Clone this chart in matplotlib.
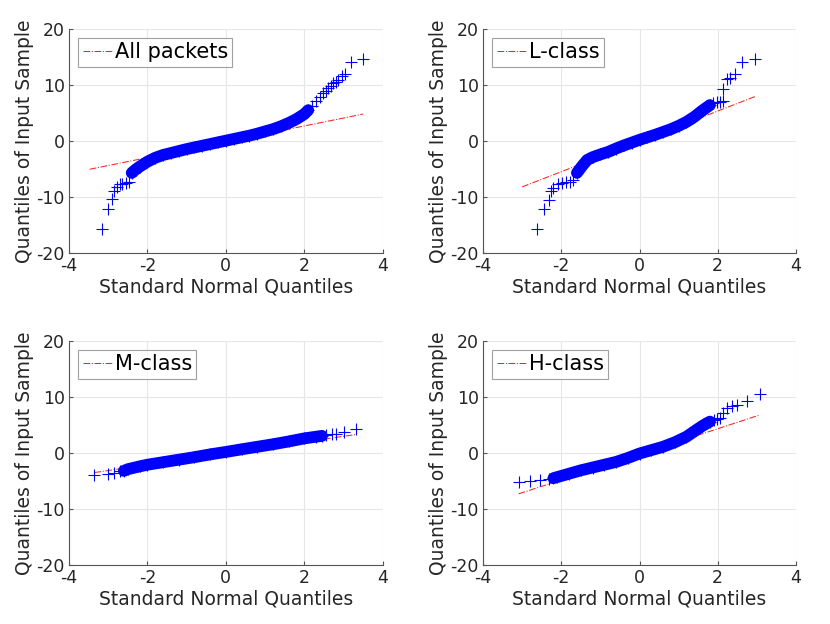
import numpy as np
import matplotlib.pyplot as plt

# etichette dei pannelli
nomi = ['All packets', 'L-class', 'M-class', 'H-class']

# All packets: code e corpo (quantili normali, quantili campione)
all_x = [-3.17, -3.01, -2.91, -2.85, -2.78, -2.70, -2.64, -2.55, -2.47, -2.40,
         -2.30, -2.20, -2.00, -1.80, -1.60, -1.40, -1.20, -1.00, -0.80, -0.60,
         -0.40, -0.20, 0.00, 0.20, 0.40, 0.60, 0.80, 1.00, 1.20, 1.40,
         1.60, 1.80, 2.00, 2.10, 2.20, 2.31, 2.40, 2.48, 2.55, 2.61,
         2.67, 2.73, 2.80, 2.86, 2.95, 3.03, 3.18, 3.50]
all_y = [-15.7, -12.1, -10.4, -9.0, -8.3, -7.7, -7.6, -7.5, -7.4, -5.7,
         -5.1, -4.6, -3.7, -3.0, -2.5, -2.15, -1.8, -1.45, -1.15, -0.85,
         -0.55, -0.25, 0.05, 0.35, 0.65, 0.95, 1.3, 1.7, 2.1, 2.6,
         3.2, 3.9, 4.8, 5.5, 6.3, 7.2, 7.9, 8.5, 9.0, 9.4,
         9.9, 10.3, 10.6, 10.9, 11.6, 11.9, 14.1, 14.6]
all_corpo = (9, 34)   # indici del tratto denso
all_rx = [-3.47, 3.50]
all_ry = [-5.05, 4.80]

# L-class
l_x = [-2.62, -2.45, -2.32, -2.26, -2.20, -2.09, -1.98, -1.87, -1.77, -1.69,
       -1.60, -1.47, -1.34, -1.20, -1.00, -0.80, -0.60, -0.40, -0.20, 0.00,
       0.20, 0.40, 0.60, 0.80, 1.00, 1.20, 1.40, 1.60, 1.80, 1.88,
       1.97, 2.06, 2.14, 2.14, 2.23, 2.31, 2.44, 2.61, 2.95]
l_y = [-15.7, -12.1, -10.5, -9.0, -8.4, -7.6, -7.5, -7.4, -7.4, -6.9,
       -5.7, -4.5, -3.4, -2.9, -2.4, -1.95, -1.35, -0.8, -0.3, 0.2,
       0.65, 1.1, 1.6, 2.1, 2.7, 3.4, 4.3, 5.4, 6.4, 6.8,
       6.9, 7.0, 7.1, 9.2, 11.0, 11.3, 12.0, 14.1, 14.6]
l_corpo = (10, 29)
l_rx = [-3.00, 2.98]
l_ry = [-8.2, 8.0]

# M-class
m_x = [-3.35, -3.00, -2.84, -2.71, -2.60, -2.50, -2.20, -2.00, -1.60, -1.20,
       -0.80, -0.40, 0.00, 0.40, 0.80, 1.20, 1.60, 2.00, 2.30, 2.45,
       2.56, 2.70, 2.81, 3.02, 3.32]
m_y = [-3.9, -3.8, -3.6, -3.3, -3.2, -2.9, -2.4, -2.1, -1.65, -1.2,
       -0.75, -0.25, 0.18, 0.65, 1.1, 1.55, 2.05, 2.6, 2.9, 3.05,
       3.2, 3.3, 3.4, 3.8, 4.2]
m_corpo = (4, 20)
m_rx = [-3.35, 3.32]
m_ry = [-3.5, 3.3]

# H-class
h_x = [-3.09, -2.79, -2.54, -2.32, -2.20, -2.10, -1.80, -1.50, -1.20, -0.90,
       -0.60, -0.30, 0.00, 0.30, 0.60, 0.90, 1.20, 1.45, 1.60, 1.72,
       1.80, 1.90, 1.97, 2.06, 2.14, 2.23, 2.36, 2.48, 2.74, 3.08]
h_y = [-5.25, -5.07, -4.9, -4.66, -4.5, -4.3, -3.7, -3.1, -2.6, -2.1,
       -1.6, -0.9, -0.1, 0.5, 1.1, 1.9, 2.9, 4.1, 4.8, 5.3,
       5.6, 5.8, 6.0, 6.2, 7.1, 8.0, 8.3, 8.6, 9.2, 10.5]
h_corpo = (4, 21)
h_rx = [-3.09, 3.04]
h_ry = [-7.3, 6.7]

dati = [(all_x, all_y, all_corpo, all_rx, all_ry),
        (l_x, l_y, l_corpo, l_rx, l_ry),
        (m_x, m_y, m_corpo, m_rx, m_ry),
        (h_x, h_y, h_corpo, h_rx, h_ry)]

fig = plt.figure(figsize=(8.3, 6.24), dpi=100)
pos = [[0.0831, 0.5946, 0.378, 0.359],
       [0.582, 0.5946, 0.377, 0.359],
       [0.0831, 0.0946, 0.378, 0.359],
       [0.582, 0.0946, 0.377, 0.359]]

for i in range(4):
    ax = fig.add_axes(pos[i])
    x, y, corpo, rx, ry = dati[i]
    x = np.array(x)
    y = np.array(y)
    a, b = corpo
    # retta di riferimento sotto i punti
    ax.plot(rx, ry, '-.', color='#ff2020', lw=0.75, label=nomi[i], zorder=2)
    # tratto denso dei punti
    ax.plot(x[a:b], y[a:b], '-', color=(0, 0, 1), lw=8.5, solid_capstyle='round', zorder=3)
    ax.plot(x, y, '+', color=(0, 0, 1), ms=8, mew=0.8, zorder=4)
    ax.set_xlim(-4, 4)
    ax.set_ylim(-20, 20)
    ax.set_xticks([-4, -2, 0, 2, 4])
    ax.set_yticks([-20, -10, 0, 10, 20])
    ax.set_yticklabels(['-20', '-10', '0', '10', '20'])
    ax.set_xticklabels(['-4', '-2', '0', '2', '4'])
    ax.grid(True, color='#e6e6e6', lw=0.8)
    ax.set_axisbelow(True)
    ax.spines['top'].set_visible(False)
    ax.spines['right'].set_visible(False)
    ax.spines['left'].set_color('#555555')
    ax.spines['bottom'].set_color('#555555')
    ax.tick_params(direction='in', length=3, color='#555555', labelsize=12.5,
                   labelcolor='#262626', pad=3)
    ax.set_xlabel('Standard Normal Quantiles', fontsize=13.5, color='#262626', labelpad=2)
    ax.set_ylabel('Quantiles of Input Sample', fontsize=13.5, color='#262626', labelpad=2)
    leg = ax.legend(loc='upper left', fontsize=15, fancybox=False, handlelength=1.45,
                    handletextpad=0.1, borderpad=0.2, borderaxespad=0.45)
    leg.get_frame().set_edgecolor('#888888')
    leg.get_frame().set_linewidth(0.8)

fig.savefig('out.png', dpi=100)
